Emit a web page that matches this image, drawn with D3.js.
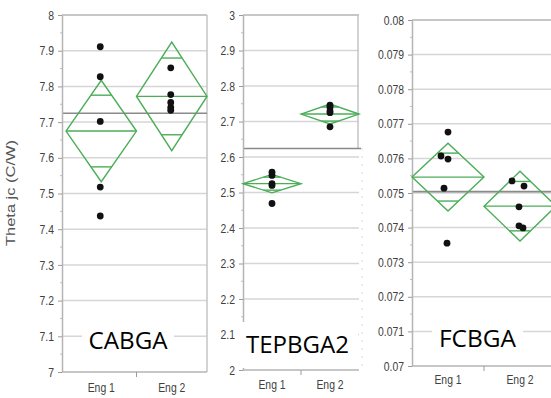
<!DOCTYPE html>
<html>
<head>
<meta charset="utf-8">
<script src="https://cdn.jsdelivr.net/npm/d3@7"></script>
<style>
  body { margin: 0; background: #fff; }
  svg { display: block; }
</style>
</head>
<body>
<svg id="chart" width="551" height="398"></svg>
<script>
// ---------- data ----------
const packages = ["CABGA", "TEPBGA2", "FCBGA"];
const engines = ["Eng 1", "Eng 2"];

// individual measurements, Theta jc (C/W)
const cabgaEng1 = [7.911, 7.827, 7.702, 7.518, 7.437];
const cabgaEng2 = [7.852, 7.777, 7.755, 7.741, 7.733];
const tepbgaEng1 = [2.557, 2.548, 2.525, 2.520, 2.469];
const tepbgaEng2 = [2.746, 2.740, 2.730, 2.725, 2.685];
const fcbgaEng1 = [0.07676, 0.07607, 0.07598, 0.07514, 0.07355];
const fcbgaEng2 = [0.07535, 0.07520, 0.07460, 0.07405, 0.07399];

// group means and 95% confidence half-widths (means diamonds)
const cabgaMeans = [7.675, 7.772];
const tepbgaMeans = [2.525, 2.721];
const fcbgaMeans = [0.07546, 0.07462];
const cabgaCI = [0.142, 0.152];
const tepbgaCI = [0.026, 0.028];
const fcbgaCI = [0.00098, 0.00101];
const grandMeans = [7.725, 2.624, 0.07504];

// y tick labels per package
const cabgaTicks = ["7", "7.1", "7.2", "7.3", "7.4", "7.5", "7.6", "7.7", "7.8", "7.9", "8"];
const tepbgaTicks = ["2", "2.1", "2.2", "2.3", "2.4", "2.5", "2.6", "2.7", "2.8", "2.9", "3"];
const fcbgaTicks = ["0.07", "0.071", "0.072", "0.073", "0.074", "0.075", "0.076", "0.077", "0.078", "0.079", "0.08"];

const yTitle = "Theta jc (C/W)";

const pointSets = [[cabgaEng1, cabgaEng2], [tepbgaEng1, tepbgaEng2], [fcbgaEng1, fcbgaEng2]];
const meanSets = [cabgaMeans, tepbgaMeans, fcbgaMeans];
const ciSets = [cabgaCI, tepbgaCI, fcbgaCI];
const tickSets = [cabgaTicks, tepbgaTicks, fcbgaTicks];

// ---------- layout ----------
const frames = [
  { axisX: 62, bandX0: 66, right: 207, top: 15, bottom: 372, xLabelY: 393,
    box: { x: 82, y: 319, w: 92, h: 40 }, nameY: 349, nameW: 79, border: "solid" },
  { axisX: 243, bandX0: 243, right: 359, top: 15, bottom: 370, xLabelY: 390,
    box: { x: 237, y: 322, w: 121, h: 46 }, nameY: 353, nameW: 103, border: "split" },
  { axisX: 412, bandX0: 412, right: 556, top: 20, bottom: 366, xLabelY: 385,
    box: { x: 432, y: 318, w: 91, h: 38 }, nameY: 347, nameW: 77, border: "none" }
];
// horizontal spread of overlapping points (px)
const jitter = [
  [[0, 0, 0, 0, 0], [0, 0, 0, 0, 0]],
  [[1, 1, 1, 1, 1], [1, 1, 1, 1, 1]],
  [[1, -6, 1, -3, 0], [-7, 5, 0, 0, 4]]
];

const GREEN = "#4bad57";
const GRID = "#d6d6d6";
const AXIS = "#b4b4b4";
const TICK_TEXT = "#404040";
const LABEL_FONT = "'Liberation Sans', sans-serif";
const SQUEEZE = 0.8;   // horizontal condensing of axis labels

const svg = d3.select("#chart");

frames.forEach((f, p) => {
  const g = svg.append("g");
  const vals = tickSets[p].map(Number);
  const y = d3.scaleLinear().domain(d3.extent(vals)).range([f.bottom, f.top]);
  const x = d3.scaleBand().domain(engines).range([f.bandX0, f.right]);
  const bw = x.bandwidth();

  // grid lines
  g.append("g")
    .selectAll("line").data(vals.slice(1, -1)).join("line")
    .attr("x1", f.axisX).attr("x2", f.right)
    .attr("y1", d => y(d)).attr("y2", d => y(d))
    .attr("stroke", GRID).attr("stroke-width", 1.5);

  // top frame line
  g.append("line")
    .attr("x1", f.axisX).attr("x2", f.right)
    .attr("y1", y(vals[vals.length - 1])).attr("y2", y(vals[vals.length - 1]))
    .attr("stroke", AXIS).attr("stroke-width", 1.5);

  // right frame
  if (f.border === "solid") {
    g.append("line").attr("x1", f.right).attr("x2", f.right)
      .attr("y1", f.top).attr("y2", f.bottom)
      .attr("stroke", "#c4c4c4").attr("stroke-width", 1.5);
  } else if (f.border === "split") {
    g.append("line").attr("x1", f.right - 1).attr("x2", f.right - 1)
      .attr("y1", f.top).attr("y2", y(grandMeans[p]))
      .attr("stroke", "#c4c4c4").attr("stroke-width", 1.5);
    g.append("line").attr("x1", f.right + 3).attr("x2", f.right + 3)
      .attr("y1", y(grandMeans[p])).attr("y2", f.bottom)
      .attr("stroke", "#b0b0b0").attr("stroke-width", 1).attr("stroke-dasharray", "1,7");
  }

  // grand mean
  g.append("line")
    .attr("x1", f.axisX).attr("x2", f.right + (p === 1 ? 2 : 0))
    .attr("y1", y(grandMeans[p])).attr("y2", y(grandMeans[p]))
    .attr("stroke", "#8a8a8a").attr("stroke-width", 1.6);

  // y axis with major ticks
  const yAxis = g.append("g")
    .attr("transform", `translate(${f.axisX},0)`)
    .call(d3.axisLeft(y).tickValues(vals).tickFormat((d, i) => tickSets[p][i])
      .tickSize(4).tickSizeOuter(0).tickPadding(4));
  yAxis.select(".domain").attr("stroke", AXIS).attr("stroke-width", 1.5);
  yAxis.selectAll(".tick line").attr("stroke", "#9a9a9a");
  yAxis.selectAll(".tick text")
    .attr("fill", TICK_TEXT).style("font-family", LABEL_FONT)
    .style("font-size", "13px")
    .attr("x", -8 / SQUEEZE)
    .attr("transform", `scale(${SQUEEZE},1)`);

  // minor ticks halfway between majors
  g.append("g").selectAll("line")
    .data(d3.pairs(vals).map(([a, b]) => (a + b) / 2)).join("line")
    .attr("x1", f.axisX - 2).attr("x2", f.axisX)
    .attr("y1", d => y(d)).attr("y2", d => y(d))
    .attr("stroke", "#bdbdbd");

  // x axis
  g.append("line")
    .attr("x1", f.axisX).attr("x2", f.right)
    .attr("y1", f.bottom).attr("y2", f.bottom)
    .attr("stroke", AXIS).attr("stroke-width", 1.5);
  const xAxis = g.append("g")
    .attr("transform", `translate(0,${f.bottom})`)
    .call(d3.axisBottom(x).tickSize(0).tickPadding(f.xLabelY - f.bottom - 10));
  xAxis.select(".domain").remove();
  xAxis.selectAll(".tick text")
    .attr("fill", TICK_TEXT).style("font-family", LABEL_FONT).style("font-size", "13px")
    .attr("transform", `scale(${SQUEEZE},1)`);
  g.append("line")
    .attr("x1", x(engines[1])).attr("x2", x(engines[1]))
    .attr("y1", f.bottom).attr("y2", f.bottom + 5)
    .attr("stroke", "#9a9a9a");

  // means diamonds
  engines.forEach((eng, i) => {
    const m = meanSets[p][i];
    const ci = ciSets[p][i];
    const cx = x(eng) + bw / 2;
    const hw = bw / 2;
    const dg = g.append("g").attr("fill", "none").attr("stroke", GREEN).attr("stroke-width", 1.4);
    dg.append("path").attr("d",
      `M${cx - hw},${y(m)} L${cx},${y(m + ci)} L${cx + hw},${y(m)} L${cx},${y(m - ci)} Z`);
    dg.append("line").attr("x1", cx - hw).attr("x2", cx + hw)
      .attr("y1", y(m)).attr("y2", y(m));
    const off = ci / Math.SQRT2;
    const ow = hw * (1 - 1 / Math.SQRT2);
    [m + off, m - off].forEach(v => {
      dg.append("line").attr("x1", cx - ow).attr("x2", cx + ow)
        .attr("y1", y(v)).attr("y2", y(v));
    });

    // points
    g.append("g").selectAll("circle").data(pointSets[p][i]).join("circle")
      .attr("cx", (d, k) => cx + jitter[p][i][k] - 1)
      .attr("cy", d => y(d))
      .attr("r", 3.4)
      .attr("fill", "#111");
  });

  // package name on white box
  g.append("rect")
    .attr("x", f.box.x).attr("y", f.box.y)
    .attr("width", f.box.w).attr("height", f.box.h)
    .attr("fill", "#fff");
  g.append("text")
    .attr("x", f.box.x + f.box.w / 2).attr("y", f.nameY)
    .attr("text-anchor", "middle")
    .attr("textLength", f.nameW).attr("lengthAdjust", "spacingAndGlyphs")
    .style("font-family", "'Open Sans', 'Liberation Sans', sans-serif")
    .style("font-size", "24px")
    .attr("fill", "#000")
    .text(packages[p]);
});

// y axis title
svg.append("text")
  .attr("transform", "translate(15,193) rotate(-90)")
  .attr("text-anchor", "middle")
  .attr("textLength", 106).attr("lengthAdjust", "spacingAndGlyphs")
  .style("font-family", "'Liberation Sans', sans-serif")
  .style("font-size", "12px")
  .attr("fill", "#555")
  .text(yTitle);
</script>
</body>
</html>
